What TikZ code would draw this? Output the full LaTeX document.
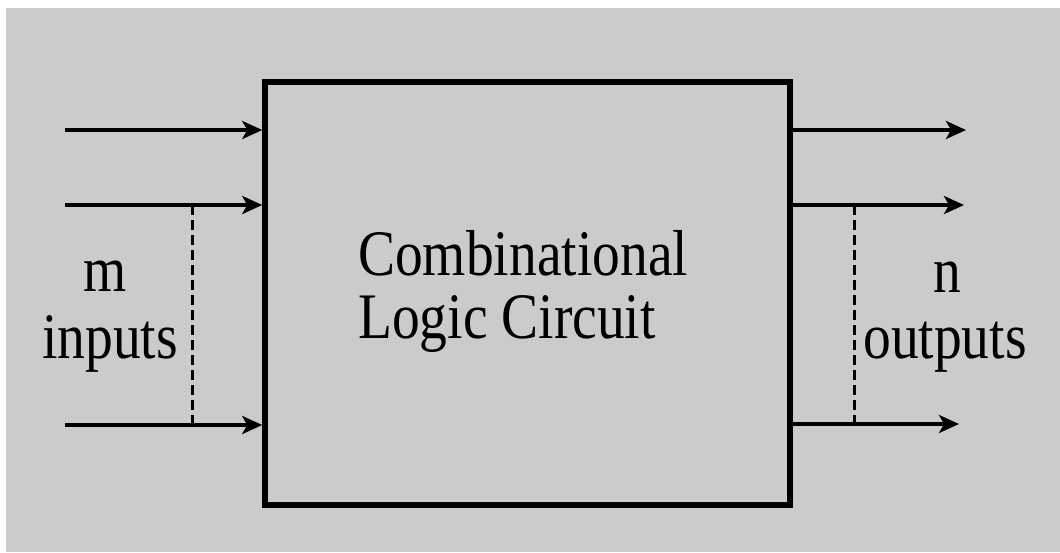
\documentclass[tikz,border=0pt]{standalone}
\usepackage{fontspec}
\setmainfont{Liberation Serif}
\usetikzlibrary{arrows.meta}
\definecolor{bggray}{RGB}{203,203,203}
\newcommand{\tall}[1]{\scalebox{1}[1.17]{#1}}
\begin{document}
\begin{tikzpicture}[x=1pt,y=-1pt,
  wire/.style={line width=3.6pt,-{Stealth[length=20pt,width=18pt,inset=5pt]}},
  brace/.style={line width=3pt,dash pattern=on 10pt off 5pt},
  lbl/.style={inner sep=0pt,anchor=base,font=\fontsize{55.5}{55}\selectfont}]
\useasboundingbox (0,0) rectangle (1060,552);
\fill[white] (0,0) rectangle (1060,552);
\fill[bggray] (6,8) rectangle (1060,552);
\node[draw,line width=5.5pt,minimum width=525pt,minimum height=423pt,inner sep=0pt] (box) at (527.5,293.5) {};
% inputs
\coordinate (i1) at (65,130);
\coordinate (i2) at (65,205);
\coordinate (i3) at (65,425);
\draw[wire] (i1) -- (i1 -| box.west);
\draw[wire] (i2) -- (i2 -| box.west);
\draw[wire] (i3) -- (i3 -| box.west);
% outputs
\coordinate (o1) at (966,130);
\coordinate (o2) at (964,205);
\coordinate (o3) at (959,424);
\draw[wire] (o1 -| box.east) -- (o1);
\draw[wire] (o2 -| box.east) -- (o2);
\draw[wire] (o3 -| box.east) -- (o3);
% dashed brackets
\coordinate (li2) at (192,205);
\coordinate (li3) at (192,425);
\coordinate (ro2) at (854,205);
\coordinate (ro3) at (854,424);
\draw[brace] (li2) -- (li3);
\draw[brace] (ro2) -- (ro3);
% texts
\node[lbl,anchor=base west] (t1) at (358,275) {\tall{Combinational}};
\node[lbl,anchor=base west] (t2) at (358,338) {\tall{Logic Circuit}};
\node[lbl] (m) at (105,291) {\tall{m}};
\node[lbl] (inp) at (110,358) {\tall{inputs}};
\node[lbl] (n) at (947,292) {\tall{n}};
\node[lbl] (outp) at (945,358) {\tall{outputs}};
\end{tikzpicture}
\end{document}
